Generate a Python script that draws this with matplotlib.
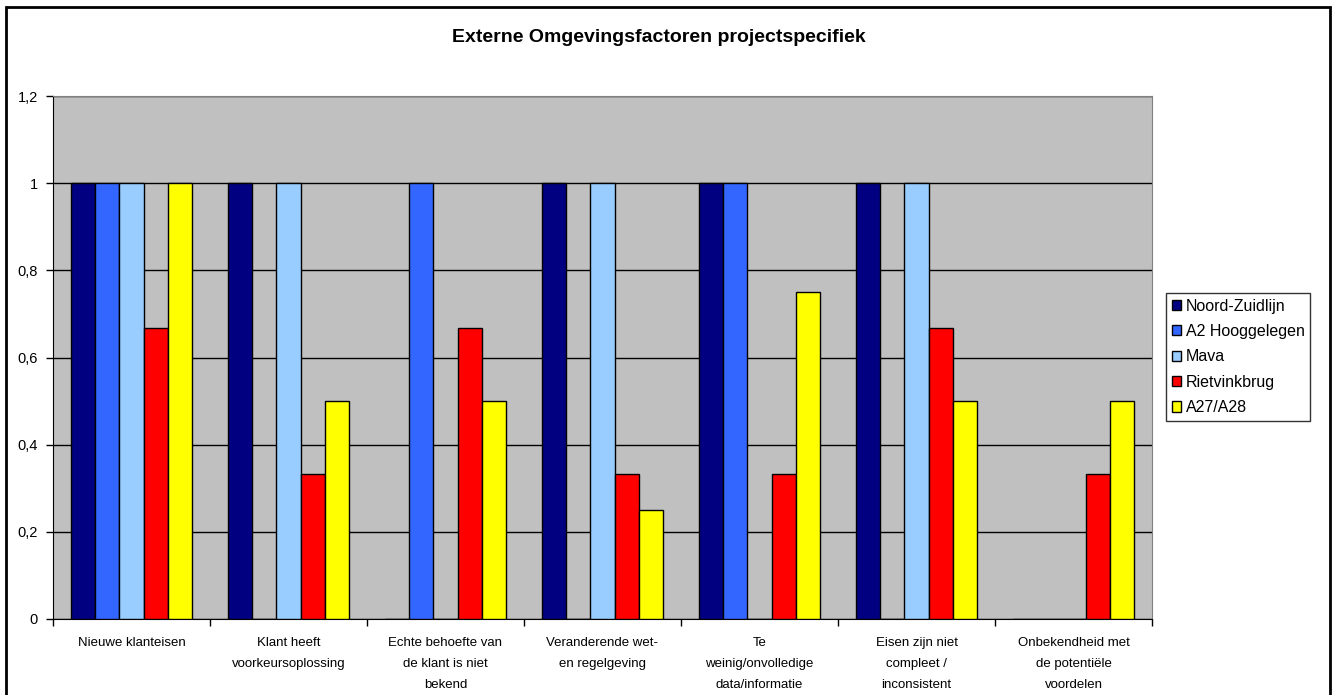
import numpy as np
import matplotlib
matplotlib.use("Agg")
import matplotlib.pyplot as plt
from matplotlib.patches import Rectangle

plt.rcParams['font.family'] = ['Liberation Sans', 'DejaVu Sans']

categories = ["Nieuwe klanteisen",
              "Klant heeft\nvoorkeursoplossing",
              "Echte behoefte van\nde klant is niet\nbekend",
              "Veranderende wet-\nen regelgeving",
              "Te\nweinig/onvolledige\ndata/informatie",
              "Eisen zijn niet\ncompleet /\ninconsistent",
              "Onbekendheid met\nde potentiële\nvoordelen"]
series_names = ["Noord-Zuidlijn", "A2 Hooggelegen", "Mava", "Rietvinkbrug", "A27/A28"]
noord_zuidlijn = [1, 1, 0, 1, 1, 1, 0]
a2_hooggelegen = [1, 0, 1, 0, 1, 0, 0]
mava = [1, 1, 0, 1, 0, 1, 0]
rietvinkbrug = [2/3, 1/3, 2/3, 1/3, 1/3, 2/3, 1/3]
a27_a28 = [1, 0.5, 0.5, 0.25, 0.75, 0.5, 0.5]
colors = ["#000080", "#3366FF", "#99CCFF", "#FF0000", "#FFFF00"]

all_series = [noord_zuidlijn, a2_hooggelegen, mava, rietvinkbrug, a27_a28]

fig = plt.figure(figsize=(13.33, 6.95), dpi=100)
ax = fig.add_axes([53/1333, 1 - 619/695, 1099/1333, 523/695])
ax.set_facecolor("#C0C0C0")

n = len(all_series)
bw = 1 / (n + 1.5)
x = np.arange(len(categories))
for i, (vals, name, c) in enumerate(zip(all_series, series_names, colors)):
    pos = x - (n * bw) / 2 + bw * (i + 0.5)
    ax.bar(pos, vals, width=bw, color=c, edgecolor="black", linewidth=1, label=name, zorder=3)

ax.set_xlim(-0.5, len(categories) - 0.5)
ax.set_ylim(0, 1.2)
ax.set_yticks(np.arange(0, 1.21, 0.2))
ax.set_yticklabels(["0", "0,2", "0,4", "0,6", "0,8", "1", "1,2"], fontsize=10.5)
ax.yaxis.grid(True, color="black", linewidth=1, zorder=1)
ax.set_axisbelow(True)

ax.set_xticks(x)
ax.set_xticklabels(categories, fontsize=9.5, linespacing=2.0, va="top")
ax.tick_params(axis="x", which="major", length=0, pad=13)
ax.set_xticks(np.arange(-0.5, len(categories)), minor=True)
ax.tick_params(axis="x", which="minor", length=5, width=1, color="black")
ax.tick_params(axis="y", length=5, width=1, color="black", pad=6)

for side in ["top", "right"]:
    ax.spines[side].set_color("#808080")
ax.spines["left"].set_color("black")
ax.spines["bottom"].set_color("black")

fig.text(659/1333, 1 - 38/695, "Externe Omgevingsfactoren projectspecifiek",
         ha="center", va="center", fontsize=14, fontweight="bold")

leg = fig.legend(loc="upper left", bbox_to_anchor=(1166/1333, 1 - 293/695),
                 fontsize=11.5, frameon=True, fancybox=False, edgecolor="black",
                 handlelength=0.6, handleheight=0.6, handletextpad=0.3,
                 labelspacing=0.65, borderpad=0.35, borderaxespad=0)
leg.get_frame().set_linewidth(1)

# outer chart frame
fig.patches.append(Rectangle((6/1333, -0.05), 1324/1333, 1.05 - 7/695,
                             transform=fig.transFigure, fill=False,
                             edgecolor="black", linewidth=2))

fig.savefig("out.png", dpi=100)
